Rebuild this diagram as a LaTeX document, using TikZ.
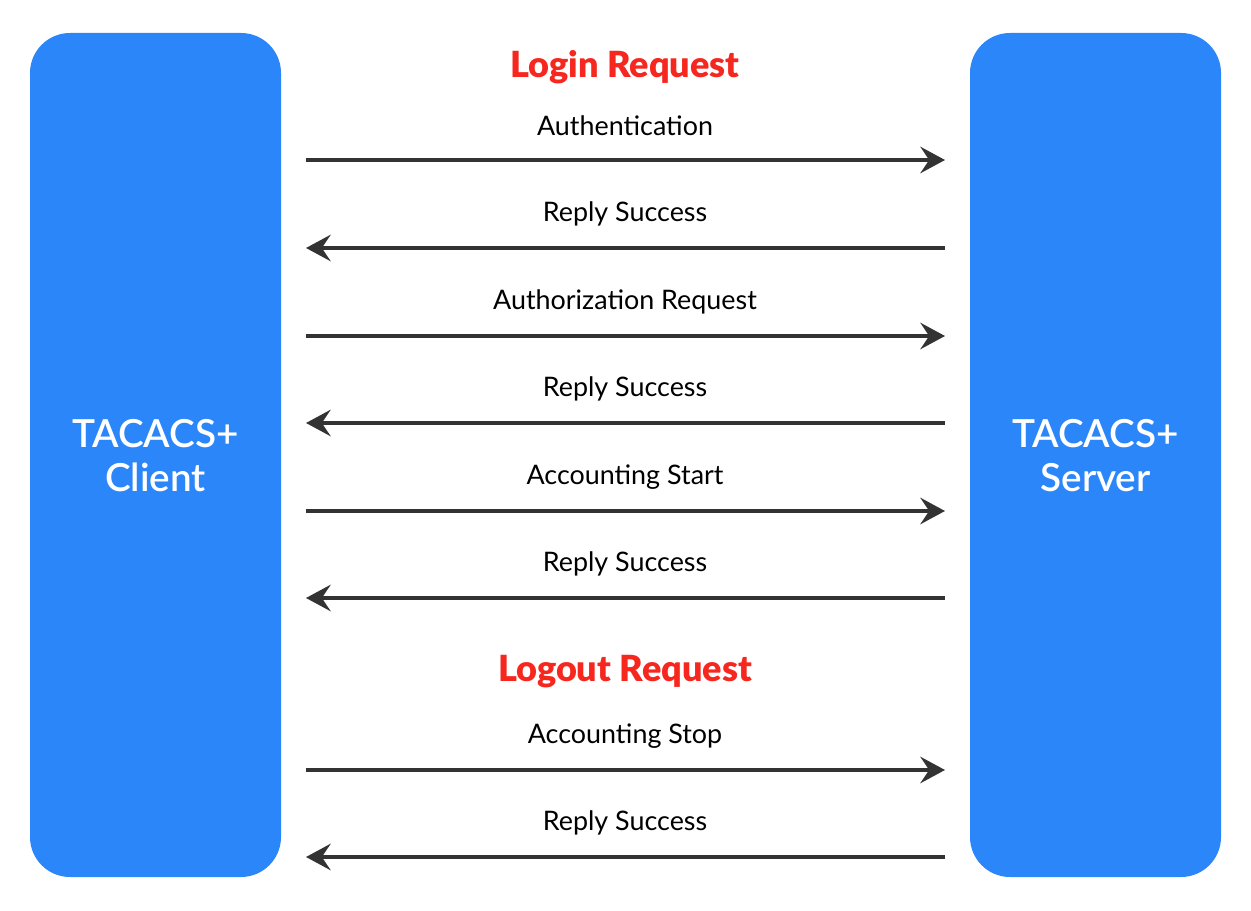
\documentclass[tikz,border=0pt]{standalone}
\usepackage{fontspec}
\setmainfont{Lato}
\newfontfamily\blackfont{Lato Black}
\newfontfamily\semifont{Lato Semibold}
\usetikzlibrary{arrows.meta}
\definecolor{boxblue}{HTML}{2B86FA}
\definecolor{redh}{HTML}{F5271F}
\definecolor{darkline}{HTML}{333333}
\begin{document}
\begin{tikzpicture}[x=0.02cm,y=-0.02cm,
  side/.style={fill=boxblue,rounded corners=0.8cm,draw=none},
  msg/.style={line width=5*0.567pt,draw=darkline,-{Stealth[length=14pt,width=15pt,inset=5pt]}},
  lbl/.style={font=\fontsize{15.3}{18}\selectfont,text=black},
  head/.style={font=\fontsize{20.5}{24}\blackfont,text=redh},
  boxtxt/.style={font=\fontsize{22}{25}\semifont,text=white,align=center}]
\useasboundingbox (0,0) rectangle (1251,911);
\fill[side] (30,33) rectangle (281,877);
\fill[side] (970,33) rectangle (1221,877);
\node[boxtxt] (client) at (155.5,456) {TACACS+\\Client};
\node[boxtxt] (server) at (1095.5,456) {TACACS+\\Server};
\node[head] (login) at (625,67) {Login Request};
\node[head] (logout) at (625,672) {Logout Request};
\foreach \y/\t/\d [count=\i] in {160/Authentication/r,248/Reply Success/l,336/Authorization Request/r,423/Reply Success/l,511/Accounting Start/r,598/Reply Success/l,770/Accounting Stop/r,857/Reply Success/l}{
  \coordinate (L\i) at (306,\y);
  \coordinate (R\i) at (945,\y);
  \node[lbl] (t\i) at (625,\y-34) {\t};
  \if r\d \draw[msg] (L\i) -- (R\i); \else \draw[msg] (R\i) -- (L\i); \fi
}
\end{tikzpicture}
\end{document}
